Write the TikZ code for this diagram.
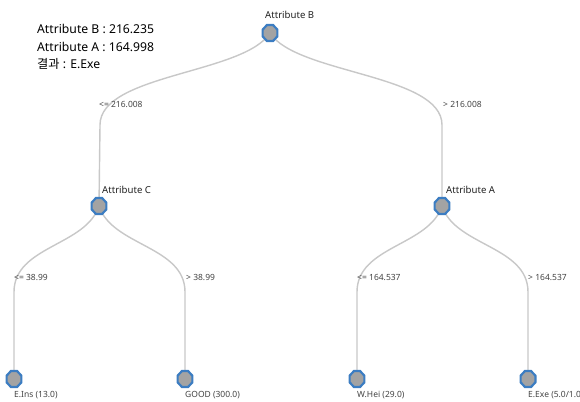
\documentclass[tikz,border=0pt]{standalone}
\usepackage{fontspec}
\setmainfont{Noto Sans}
\newfontfamily\krfont{Noto Sans CJK KR}
\usetikzlibrary{shapes.geometric}
\definecolor{edgegray}{HTML}{C8C8C8}
\definecolor{nodefill}{HTML}{A3A3A3}
\definecolor{nodeblue}{HTML}{3C7DC2}
\definecolor{txt}{HTML}{222222}
\definecolor{lbl}{HTML}{444444}
\begin{document}
\begin{tikzpicture}[x=1pt,y=-1pt,
  treenode/.style={regular polygon,regular polygon sides=8,draw=nodeblue,fill=nodefill,line width=2.2pt,minimum size=16pt,inner sep=0pt,yscale=1.08},
  nodetext/.style={font=\fontsize{9.6}{11}\selectfont,text=txt,inner sep=0pt,anchor=west},
  edgetext/.style={font=\fontsize{8.5}{9}\selectfont,text=lbl,inner sep=0pt,anchor=west},
  branch/.style={draw=edgegray,line width=1.4pt}]
\useasboundingbox[fill=white] (0,0) rectangle (580,401);

% info text
\node[anchor=west,inner sep=0pt,font=\fontsize{12.2}{14}\selectfont,text=black] (i1) at (37,29) {Attribute B : 216.235};
\node[anchor=west,inner sep=0pt,font=\fontsize{12.2}{14}\selectfont,text=black] (i2) at (37,47) {Attribute A : 164.998};
\node[anchor=west,inner sep=0pt,font=\fontsize{12.2}{14}\selectfont,text=black] (i3) at (37,64) {{\krfont 결과} : E.Exe};

% coordinates where the curves become vertical
\coordinate (vC) at (100,125);
\coordinate (vA) at (442,125);
\coordinate (vEI) at (14,292);
\coordinate (vG) at (185,292);
\coordinate (vW) at (357,292);
\coordinate (vE) at (528,292);

% edges
\draw[branch] (270,33) .. controls (244,74) and (100,74) .. (vC) -- (99,206);
\draw[branch] (270,33) .. controls (296,74) and (442,74) .. (vA) -- (442,206);
\draw[branch] (99,206) .. controls (86,246) and (14,246) .. (vEI) -- (14,379);
\draw[branch] (99,206) .. controls (112,246) and (185,246) .. (vG) -- (185,379);
\draw[branch] (442,206) .. controls (429,246) and (357,246) .. (vW) -- (357,379);
\draw[branch] (442,206) .. controls (455,246) and (528,246) .. (vE) -- (528,379);

% nodes
\node[treenode] (root) at (270,33) {};
\node[treenode] (attrC) at (99,206) {};
\node[treenode] (attrA) at (442,206) {};
\node[treenode] (eins) at (14,379) {};
\node[treenode] (good) at (185,379) {};
\node[treenode] (whei) at (357,379) {};
\node[treenode] (eexe) at (528,379) {};

% node labels
\node[nodetext] (lroot) at (265,15) {Attribute B};
\node[nodetext] (lC) at (102,190) {Attribute C};
\node[nodetext] (lA) at (446,190) {Attribute A};
\node[edgetext] (leins) at (14,395) {E.Ins (13.0)};
\node[edgetext] (lgood) at (185,395) {GOOD (300.0)};
\node[edgetext] (lwhei) at (357,395) {W.Hei (29.0)};
\node[edgetext] (leexe) at (528,395) {E.Exe (5.0/1.0)};

% edge labels
\node[edgetext] (e1) at (99,104) {<= 216.008};
\node[edgetext] (e2) at (443,104) {> 216.008};
\node[edgetext] (e3) at (14,277) {<= 38.99};
\node[edgetext] (e4) at (186,277) {> 38.99};
\node[edgetext] (e5) at (357,277) {<= 164.537};
\node[edgetext] (e6) at (528,277) {> 164.537};
\end{tikzpicture}
\end{document}
